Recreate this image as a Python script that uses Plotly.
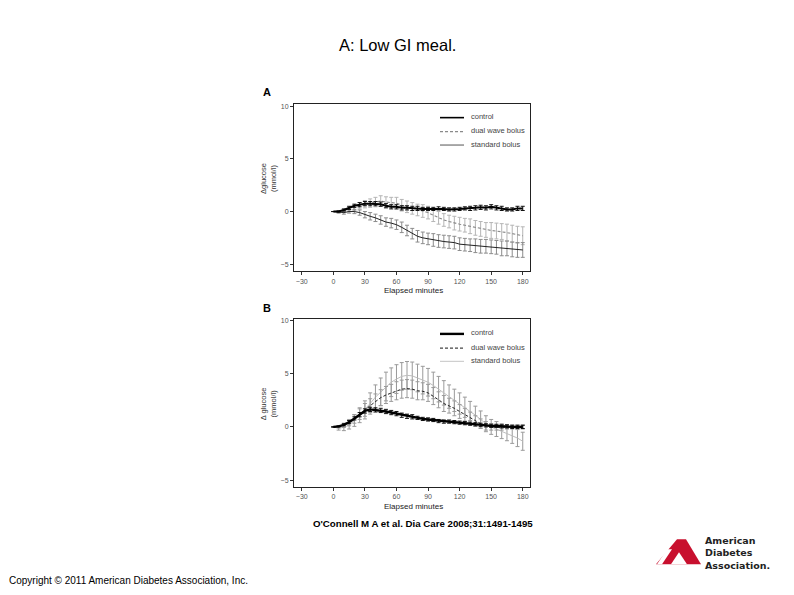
import plotly.graph_objects as go

W, H = 794, 595

# ---------------- data ----------------
minutes = list(range(0, 181, 5))
x_ticks = [-30, 0, 30, 60, 90, 120, 150, 180]
y_ticks = [-5, 0, 5, 10]

# Panel A (low GI meal)
a_control = [0, 0, 0.15, 0.35, 0.55, 0.65, 0.75, 0.75, 0.75, 0.7, 0.55, 0.45, 0.45, 0.35, 0.35, 0.3, 0.3, 0.25, 0.25,
             0.25, 0.3, 0.25, 0.2, 0.2, 0.25, 0.3, 0.3, 0.35, 0.4, 0.35, 0.45, 0.35, 0.3, 0.2, 0.2, 0.3, 0.3]
a_control_err = [0, 0.05, 0.1, 0.15, 0.15, 0.2, 0.2, 0.2, 0.2, 0.2, 0.2, 0.2, 0.2, 0.2, 0.2, 0.2, 0.2, 0.15, 0.15,
                 0.15, 0.15, 0.15, 0.15, 0.15, 0.15, 0.15, 0.2, 0.2, 0.2, 0.2, 0.2, 0.2, 0.2, 0.15, 0.15, 0.2, 0.2]
a_dual = [0, 0, 0.05, 0.2, 0.35, 0.55, 0.7, 0.8, 0.9, 1.0, 0.9, 0.85, 0.8, 0.6, 0.45, 0.3, 0.15, 0.05, -0.1,
          -0.35, -0.6, -0.8, -0.95, -1.1, -1.2, -1.3, -1.4, -1.55, -1.65, -1.75, -1.8, -1.85, -1.9, -2.0, -2.1, -2.2, -2.3]
a_dual_err = [0, 0.1, 0.15, 0.2, 0.25, 0.3, 0.35, 0.4, 0.45, 0.5, 0.5, 0.5, 0.55, 0.55, 0.55, 0.55, 0.55, 0.6, 0.6,
              0.6, 0.6, 0.6, 0.6, 0.65, 0.65, 0.65, 0.7, 0.7, 0.7, 0.7, 0.75, 0.75, 0.75, 0.8, 0.8, 0.8, 0.85]
a_standard = [0, -0.05, -0.1, 0.0, 0.0, -0.1, -0.3, -0.45, -0.6, -0.8, -1.0, -1.1, -1.25, -1.5, -1.8, -2.1, -2.35, -2.5,
              -2.6, -2.7, -2.8, -2.85, -2.9, -2.95, -3.1, -3.15, -3.2, -3.25, -3.3, -3.3, -3.35, -3.4, -3.5, -3.5, -3.6,
              -3.65, -3.65]
a_standard_err = [0, 0.1, 0.15, 0.15, 0.2, 0.25, 0.3, 0.35, 0.35, 0.4, 0.4, 0.45, 0.45, 0.5, 0.5, 0.5, 0.55, 0.55,
                  0.55, 0.6, 0.6, 0.6, 0.6, 0.6, 0.6, 0.6, 0.6, 0.65, 0.65, 0.65, 0.65, 0.65, 0.7, 0.7, 0.7, 0.7, 0.7]

# Panel B
b_control = [0, 0.05, 0.2, 0.45, 0.8, 1.15, 1.5, 1.65, 1.6, 1.55, 1.45, 1.35, 1.25, 1.1, 1.0, 0.95, 0.85, 0.75, 0.7,
             0.65, 0.55, 0.5, 0.5, 0.45, 0.4, 0.35, 0.3, 0.25, 0.2, 0.15, 0.1, 0.1, 0.05, 0.05, 0.0, 0.0, 0.0]
b_control_err = [0, 0.05, 0.1, 0.15, 0.15, 0.2, 0.2, 0.2, 0.2, 0.2, 0.2, 0.2, 0.2, 0.2, 0.2, 0.2, 0.15, 0.15, 0.15,
                 0.15, 0.15, 0.15, 0.15, 0.15, 0.15, 0.15, 0.15, 0.15, 0.15, 0.15, 0.15, 0.15, 0.15, 0.15, 0.15, 0.15,
                 0.15]
b_dual = [0, 0, 0.15, 0.4, 0.75, 1.2, 1.6, 2.0, 2.4, 2.75, 3.0, 3.2, 3.4, 3.55, 3.6, 3.55, 3.4, 3.35, 3.2, 2.9, 2.55,
          2.2, 2.0, 1.75, 1.45, 1.15, 0.85, 0.55, 0.3, 0.1, 0.0, -0.05, -0.05, 0.0, 0.0, 0.0, 0.0]
b_dual_err = [0, 0.1, 0.2, 0.3, 0.4, 0.5, 0.6, 0.65, 0.7, 0.75, 0.8, 0.8, 0.85, 0.85, 0.85, 0.85, 0.85, 0.8, 0.8, 0.8,
              0.75, 0.75, 0.7, 0.7, 0.65, 0.6, 0.55, 0.5, 0.45, 0.4, 0.3, 0.25, 0.25, 0.2, 0.2, 0.2, 0.2]
b_standard = [0, -0.1, -0.05, 0.2, 0.6, 1.1, 1.6, 2.2, 2.8, 3.3, 3.8, 4.2, 4.5, 4.75, 4.85, 4.8, 4.6, 4.4, 4.2, 3.9,
              3.55, 3.2, 2.85, 2.5, 2.2, 1.85, 1.5, 1.1, 0.7, 0.3, 0.0, -0.2, -0.4, -0.6, -0.8, -1.05, -1.35]
b_standard_err = [0, 0.2, 0.3, 0.4, 0.55, 0.7, 0.85, 1.0, 1.15, 1.3, 1.35, 1.35, 1.35, 1.3, 1.3, 1.3, 1.3, 1.3, 1.3,
                  1.25, 1.2, 1.15, 1.1, 1.05, 1.0, 0.95, 0.9, 0.85, 0.8, 0.75, 0.7, 0.7, 0.7, 0.7, 0.75, 0.8, 0.85]

series_names = ["control", "dual wave bolus", "standard bolus"]

# ---------------- helpers ----------------
OFF = 8  # page body margin offset


def px(x):
    return (x - OFF) / W


def py(y):
    return 1 - (y - OFF) / H


FONT = "Liberation Sans, Arial, sans-serif"

fig = go.Figure()


def add_series(xa, ya, y, err, color, width, dash, ecolor):
    fig.add_trace(go.Scatter(
        x=minutes, y=y, mode="lines", xaxis=xa, yaxis=ya, showlegend=False,
        line=dict(color=color, width=width, dash=dash),
        error_y=dict(type="data", array=err, visible=True, color=ecolor, thickness=1, width=2),
        hoverinfo="skip"))


# Panel A
add_series("x", "y", a_dual, a_dual_err, "#8a8a8a", 1.1, "3px,2px", "#b5b5b5")
add_series("x", "y", a_standard, a_standard_err, "#222222", 1.0, "solid", "#8c8c8c")
add_series("x", "y", a_control, a_control_err, "#000000", 2.0, "solid", "#111111")
# Panel B
add_series("x2", "y2", b_standard, b_standard_err, "#bdbdbd", 1.0, "solid", "#9a9a9a")
add_series("x2", "y2", b_dual, b_dual_err, "#222222", 1.0, "3px,2px", "#9a9a9a")
add_series("x2", "y2", b_control, b_control_err, "#000000", 2.4, "solid", "#111111")

xdom = [px(294), px(530)]
dom_a = [py(270), py(102.7)]
dom_b = [py(486.7), py(317.7)]
x_range = [-37.4, 186.9]
y_range = [-5.66, 10.18]

axis_common = dict(showline=True, linecolor="#222", linewidth=1, mirror=True, ticks="outside", ticklen=3,
                   tickcolor="#333", tickwidth=1, showgrid=False, zeroline=False,
                   tickfont=dict(family=FONT, size=7, color="#555"))

fig.update_layout(
    width=W, height=H, margin=dict(l=0, r=0, t=0, b=0),
    paper_bgcolor="white", plot_bgcolor="white", showlegend=False,
    xaxis=dict(domain=xdom, range=x_range, tickvals=x_ticks, anchor="y", **axis_common),
    yaxis=dict(domain=dom_a, range=y_range, tickvals=y_ticks, anchor="x", **axis_common),
    xaxis2=dict(domain=xdom, range=x_range, tickvals=x_ticks, anchor="y2", **axis_common),
    yaxis2=dict(domain=dom_b, range=y_range, tickvals=y_ticks, anchor="x2", **axis_common),
)

ann = []
shapes = []


def text(x, y, s, size, color="#000", bold=False, xanchor="center", angle=0, family=FONT):
    ann.append(dict(x=px(x), y=py(y), xref="paper", yref="paper", text=("<b>%s</b>" % s) if bold else s,
                    showarrow=False, xanchor=xanchor, yanchor="middle", textangle=angle,
                    font=dict(family=family, size=size, color=color)))


# Titles and captions
text(397, 43, "A: Low GI meal.", 16.5)
text(261, 90, "A", 11, bold=True, xanchor="left")
text(261, 307, "B", 11, bold=True, xanchor="left")
text(413, 289.5, "Elapsed minutes", 8, color="#222")
text(413, 506, "Elapsed minutes", 8, color="#222")
text(268.5, 177, "Δglucose<br>(mmol/l)", 7.5, color="#333", angle=-90)
text(268.5, 403, "Δ glucose<br>(mmol/l)", 7.5, color="#333", angle=-90)
text(423, 523, "O'Connell M A et al. Dia Care 2008;31:1491-1495", 9.7, bold=True)
text(7, 580, "Copyright © 2011 American Diabetes Association, Inc.", 10, xanchor="left")

# Legends (drawn manually to match spacing)
legend_styles = {
    "A": [("#000", 1.6, "solid"), ("#8a8a8a", 1.1, "3px,2px"), ("#555", 1.0, "solid")],
    "B": [("#000", 2.4, "solid"), ("#444", 1.1, "3px,2px"), ("#c4c4c4", 1.0, "solid")],
}
legend_rows = {"A": [116, 130, 143.5], "B": [333, 347.3, 360.5]}
for key in ["A", "B"]:
    for name, (col, wd, dsh), yy in zip(series_names, legend_styles[key], legend_rows[key]):
        shapes.append(dict(type="line", xref="paper", yref="paper", x0=px(440), x1=px(464), y0=py(yy), y1=py(yy),
                           line=dict(color=col, width=wd, dash=dsh)))
        text(469, yy - 1, name, 7.5, color="#444", xanchor="left")


# ADA logo
def path_paper(p):
    out = []
    for t in p.split():
        if "," in t:
            a, b = t.split(",")
            out.append("%.5f,%.5f" % (px(float(a)), py(float(b))))
        else:
            out.append(t)
    return " ".join(out)


shapes.append(dict(type="path", xref="paper", yref="paper",
                   path=path_paper("M 677,539 L 686,539 L 701,564 L 656,564 Z"),
                   fillcolor="#c8102e", line=dict(width=0)))
shapes.append(dict(type="path", xref="paper", yref="paper",
                   path=path_paper("M 679,552 L 687,564 L 671,564 Z"),
                   fillcolor="white", line=dict(width=0)))
shapes.append(dict(type="path", xref="paper", yref="paper",
                   path=path_paper("M 667,549 L 672,549 L 662,564 L 657,564 Z"),
                   fillcolor="white", line=dict(width=0)))
ann.append(dict(x=px(703), y=py(552.5), xref="paper", yref="paper", showarrow=False, xanchor="left",
                yanchor="middle", align="left",
                text="<b>American<br>Diabetes<br>Association.</b>",
                font=dict(family="DejaVu Sans, Arial, sans-serif", size=9.5, color="#222")))

fig.update_layout(annotations=ann, shapes=shapes)
fig.write_html("out.html")
